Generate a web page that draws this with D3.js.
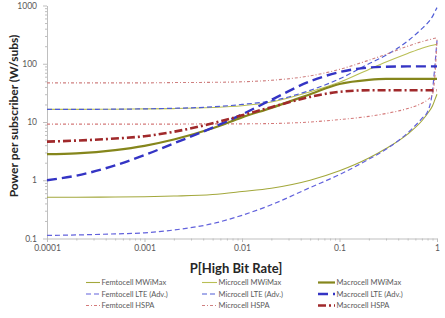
<!DOCTYPE html>
<html><head><meta charset="utf-8">
<script src="https://cdn.jsdelivr.net/npm/d3@7"></script>
<style>
html,body{margin:0;padding:0;background:#fff;}
svg{display:block;}
</style></head>
<body>
<svg id="chart" width="445" height="318"></svg>
<script>
// ---- data ----
const pHigh = [0.0001, 0.0002, 0.0005, 0.001, 0.002, 0.005, 0.01, 0.02, 0.05, 0.1, 0.2, 0.3, 0.5, 0.7, 0.8, 0.9, 0.95, 1];

const femtoMWiMax  = [0.51, 0.51, 0.515, 0.52, 0.535, 0.57, 0.64, 0.73, 1.0, 1.45, 2.4, 3.5, 6.2, 10.5, 14, 19, 24, 30];
const microMWiMax  = [16.5, 16.5, 16.6, 16.8, 17.0, 17.7, 19, 22, 33, 48, 80, 107, 150, 185, 198, 208, 212, 215];
const macroMWiMax  = [2.8, 2.9, 3.3, 3.9, 5.0, 7.8, 12, 17.5, 30, 45, 53, 55, 55, 55, 55, 55, 55, 55];

const femtoLTE     = [0.113, 0.115, 0.12, 0.125, 0.14, 0.18, 0.25, 0.38, 0.75, 1.25, 2.3, 3.4, 6.5, 11.5, 15, 35, 90, 250];
const microLTE     = [16.5, 16.5, 16.6, 16.8, 17.2, 18.2, 20, 23, 35, 55, 100, 140, 245, 400, 500, 650, 780, 920];
const macroLTE     = [1.0, 1.2, 1.8, 2.7, 4.3, 8.0, 13.5, 24, 50, 72, 86, 89, 90, 90, 90, 90, 90, 90];

const femtoHSPA    = [9.2, 9.2, 9.2, 9.2, 9.2, 9.3, 9.3, 9.4, 10, 11, 12.5, 14, 17, 21, 24, 30, 60, 260];
const microHSPA    = [47, 47, 47, 47, 47.5, 48, 49, 52, 62, 80, 115, 145, 200, 240, 255, 268, 274, 280];
const macroHSPA    = [4.6, 4.8, 5.2, 5.7, 6.8, 9.5, 13, 18, 27, 33, 35, 35, 35, 35, 35, 35, 35, 35];

const seriesNames = ["Femtocell MWiMax", "Microcell MWiMax", "Macrocell MWiMax",
                     "Femtocell LTE (Adv.)", "Microcell LTE (Adv.)", "Macrocell LTE (Adv.)",
                     "Femtocell HSPA", "Microcell HSPA", "Macrocell HSPA"];
const seriesValues = [femtoMWiMax, microMWiMax, macroMWiMax, femtoLTE, microLTE, macroLTE, femtoHSPA, microHSPA, macroHSPA];

const xTicks = [0.0001, 0.001, 0.01, 0.1, 1];
const yTicks = [0.1, 1, 10, 100, 1000];
const xTitle = "P[High Bit Rate]";
const yTitle = "Power per subscriber (W/subs)";

// ---- styles ----
const styles = [
  {color:"#a3a83c", width:1.1, dash:null},
  {color:"#b9bf55", width:1.1, dash:null},
  {color:"#85861c", width:2.2, dash:null},
  {color:"#6262dc", width:1.2, dash:"5,3"},
  {color:"#4f5cd6", width:1.2, dash:"5,3"},
  {color:"#3434c4", width:2.4, dash:"10,5"},
  {color:"#d47a7a", width:1.1, dash:"3,2,1,2"},
  {color:"#cf8080", width:1.1, dash:"3,2,1,2"},
  {color:"#a0292b", width:2.6, dash:"8,3,2,3"}
];

const svg = d3.select("#chart");
const x = d3.scaleLog().domain([0.0001, 1]).range([47, 437]);
const y = d3.scaleLog().domain([0.1, 1000]).range([238.5, 5.5]);

const axisColor = "#bfbfbf";
const textColor = "#595959";

function minorTicks(lo, hi) {
  const out = [];
  for (let e = Math.log10(lo); e < Math.log10(hi); e++) {
    for (let k = 2; k <= 9; k++) out.push(k * Math.pow(10, e));
  }
  return out;
}

// y axis
const gy = svg.append("g").attr("transform", "translate(47,0)");
gy.call(d3.axisLeft(y).tickValues(yTicks).tickFormat(d3.format("~g")).tickSize(4).tickPadding(6).tickSizeOuter(0));
const gym = svg.append("g").attr("transform", "translate(47,0)");
gym.call(d3.axisLeft(y).tickValues(minorTicks(0.1, 1000)).tickFormat("").tickSize(2).tickSizeOuter(0));
gym.select(".domain").remove();

// x axis
const gx = svg.append("g").attr("transform", "translate(0,238.5)");
gx.call(d3.axisBottom(x).tickValues(xTicks).tickFormat(d3.format("~g")).tickSize(3.5).tickPadding(3).tickSizeOuter(0));
const gxm = svg.append("g").attr("transform", "translate(0,238.5)");
gxm.call(d3.axisBottom(x).tickValues(minorTicks(0.0001, 1)).tickFormat("").tickSize(2).tickSizeOuter(0));
gxm.select(".domain").remove();

svg.selectAll(".domain, .tick line").attr("stroke", axisColor).attr("stroke-width", 1);
svg.selectAll(".tick text").attr("fill", textColor).style("font-family", "Lato, 'Liberation Sans', sans-serif").style("font-size", "8.5px");

// lines
const line = d3.line().x((d, i) => x(pHigh[i])).y(d => y(d)).curve(d3.curveMonotoneX);
const order = [0, 1, 3, 4, 6, 7, 2, 5, 8];
order.forEach(i => {
  const s = styles[i];
  svg.append("path")
    .datum(seriesValues[i])
    .attr("d", line)
    .attr("fill", "none")
    .attr("stroke", s.color)
    .attr("stroke-width", s.width)
    .attr("stroke-dasharray", s.dash)
    .attr("stroke-linejoin", "round");
});

// titles
svg.append("text")
  .attr("x", 236).attr("y", 273)
  .attr("text-anchor", "middle")
  .style("font-family", "Lato, 'Liberation Sans', sans-serif")
  .style("font-weight", "bold").style("font-size", "13px")
  .attr("fill", "#262626")
  .text(xTitle);

svg.append("text")
  .attr("transform", "translate(18,116) rotate(-90)")
  .attr("text-anchor", "middle")
  .style("font-family", "Lato, 'Liberation Sans', sans-serif")
  .style("font-weight", "bold").style("font-size", "12px")
  .attr("fill", "#262626")
  .text(yTitle);

// legend
const colX = [86, 202, 318];
const lineLen = [14, 15, 17];
const rowY = [282.5, 294, 305.5];
seriesNames.forEach((name, i) => {
  const c = i % 3, r = Math.floor(i / 3);
  const s = styles[i];
  const g = svg.append("g");
  g.append("line")
    .attr("x1", colX[c]).attr("x2", colX[c] + lineLen[c])
    .attr("y1", rowY[r]).attr("y2", rowY[r])
    .attr("stroke", s.color).attr("stroke-width", s.width)
    .attr("stroke-dasharray", s.dash);
  g.append("text")
    .attr("x", colX[c] + lineLen[c] + 1.5).attr("y", rowY[r] + 2.6)
    .style("font-family", "Lato, 'Liberation Sans', sans-serif")
    .style("font-size", "7.5px")
    .attr("fill", textColor)
    .text(name);
});
</script>
</body></html>
